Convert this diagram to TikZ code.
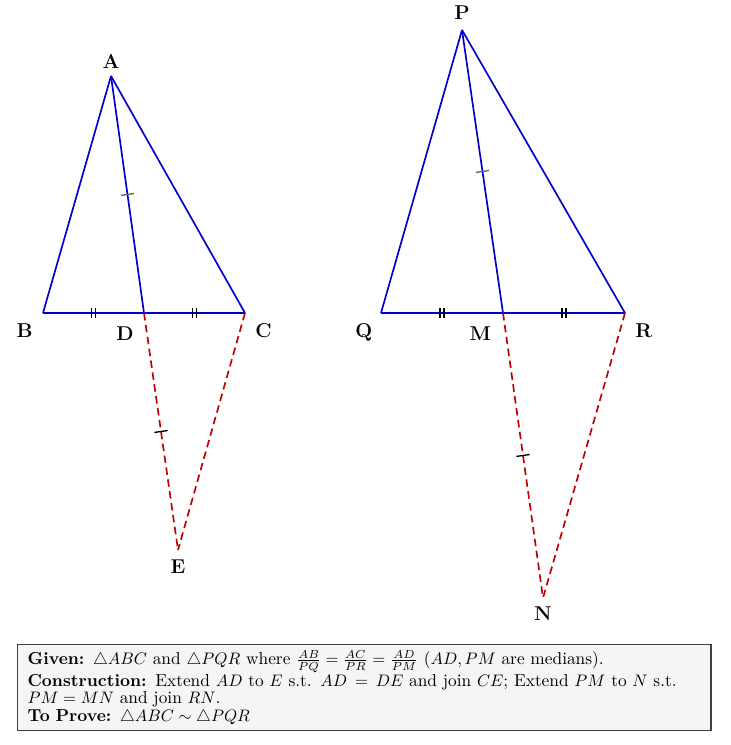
\documentclass[tikz,border=0pt]{standalone}
\usepackage{amsmath}
\usepackage{amssymb}
\usetikzlibrary{positioning}
\usetikzlibrary{decorations.markings}

\tikzset{onetick/.style={postaction={decorate, decoration={markings,
      mark=at position 0.5 with {\draw[#1, line width=0.8pt, solid] (0,-4pt) -- (0,4pt);}}}}}

\begin{document}
\begin{tikzpicture}[x=0.6pt, y=0.6pt]
      \tikzstyle{side} = [blue!80!black, line width=1pt]
      \tikzstyle{ext} = [red!75!black, line width=1pt, dash pattern=on 4.5pt off 2.7pt]
      \tikzstyle{vlabel} = [inner sep=0pt, font=\large\bfseries]
      \tikzstyle{twotick} = [postaction={decorate, decoration={markings,
          mark=at position 0.5 with {\draw[black, line width=0.7pt] (-1.2pt,-3.2pt) -- (-1.2pt,3.2pt) (1.2pt,-3.2pt) -- (1.2pt,3.2pt);}}}]
      \useasboundingbox (0,0) rectangle (730,745);
      % first triangle
      \begin{scope}
	\coordinate (A) at (111,669);
	\coordinate (B) at (43,432);
	\coordinate (D) at (144,432);
	\coordinate (C) at (245,432);
	\coordinate (E) at (178,195);
	\node[vlabel, above=4pt of A] (lA) {A};
	\node[vlabel, below left=6pt and 6pt of B] (lB) {B};
	\node[vlabel, below left=8pt and 6pt of D] (lD) {D};
	\node[vlabel, below right=6pt and 6pt of C] (lC) {C};
	\node[vlabel, below=6pt of E] (lE) {E};
	\draw[side] (A) -- (B) (A) -- (C);
	\draw[side, twotick] (B) -- (D);
	\draw[side, twotick] (D) -- (C);
	\draw[side, onetick=black!60] (A) -- (D);
	\draw[ext, onetick=black] (D) -- (E);
	\draw[ext] (C) -- (E);
      \end{scope}
      % second triangle
      \begin{scope}
	\coordinate (P) at (462,715);
	\coordinate (Q) at (381,432);
	\coordinate (M) at (503,432);
	\coordinate (R) at (625,432);
	\coordinate (N) at (543,147);
	\node[vlabel, above=6pt of P] (lP) {P};
	\node[vlabel, below left=6pt and 5pt of Q] (lQ) {Q};
	\node[vlabel, below left=8pt and 7pt of M] (lM) {M};
	\node[vlabel, below right=6pt and 6pt of R] (lR) {R};
	\node[vlabel, below=5pt of N] (lN) {N};
	\draw[side] (P) -- (Q) (P) -- (R);
	\draw[side, twotick] (Q) -- (M);
	\draw[side, twotick] (M) -- (R);
	\draw[side, onetick=black!60] (P) -- (M);
	\draw[ext, onetick=black] (M) -- (N);
	\draw[ext] (R) -- (N);
      \end{scope}
      % statement
      \node[draw=black!75, fill=black!4, line width=0.7pt, anchor=south west, inner xsep=6pt, inner ysep=3.5pt,
	text width=404pt, align=left, font=\fontsize{10.4}{10.5}\selectfont] (given) at (17,14)
	{\textbf{Given:} $\triangle ABC$ and $\triangle PQR$ where $\frac{AB}{PQ}=\frac{AC}{PR}=\frac{AD}{PM}$ ($AD, PM$ are medians).\\
	\textbf{Construction:} Extend $AD$ to $E$ s.t. $AD = DE$ and join $CE$; Extend $PM$ to $N$ s.t. $PM = MN$ and join $RN$.\\
	\textbf{To Prove:} $\triangle ABC \sim \triangle PQR$};
\end{tikzpicture}
\end{document}
